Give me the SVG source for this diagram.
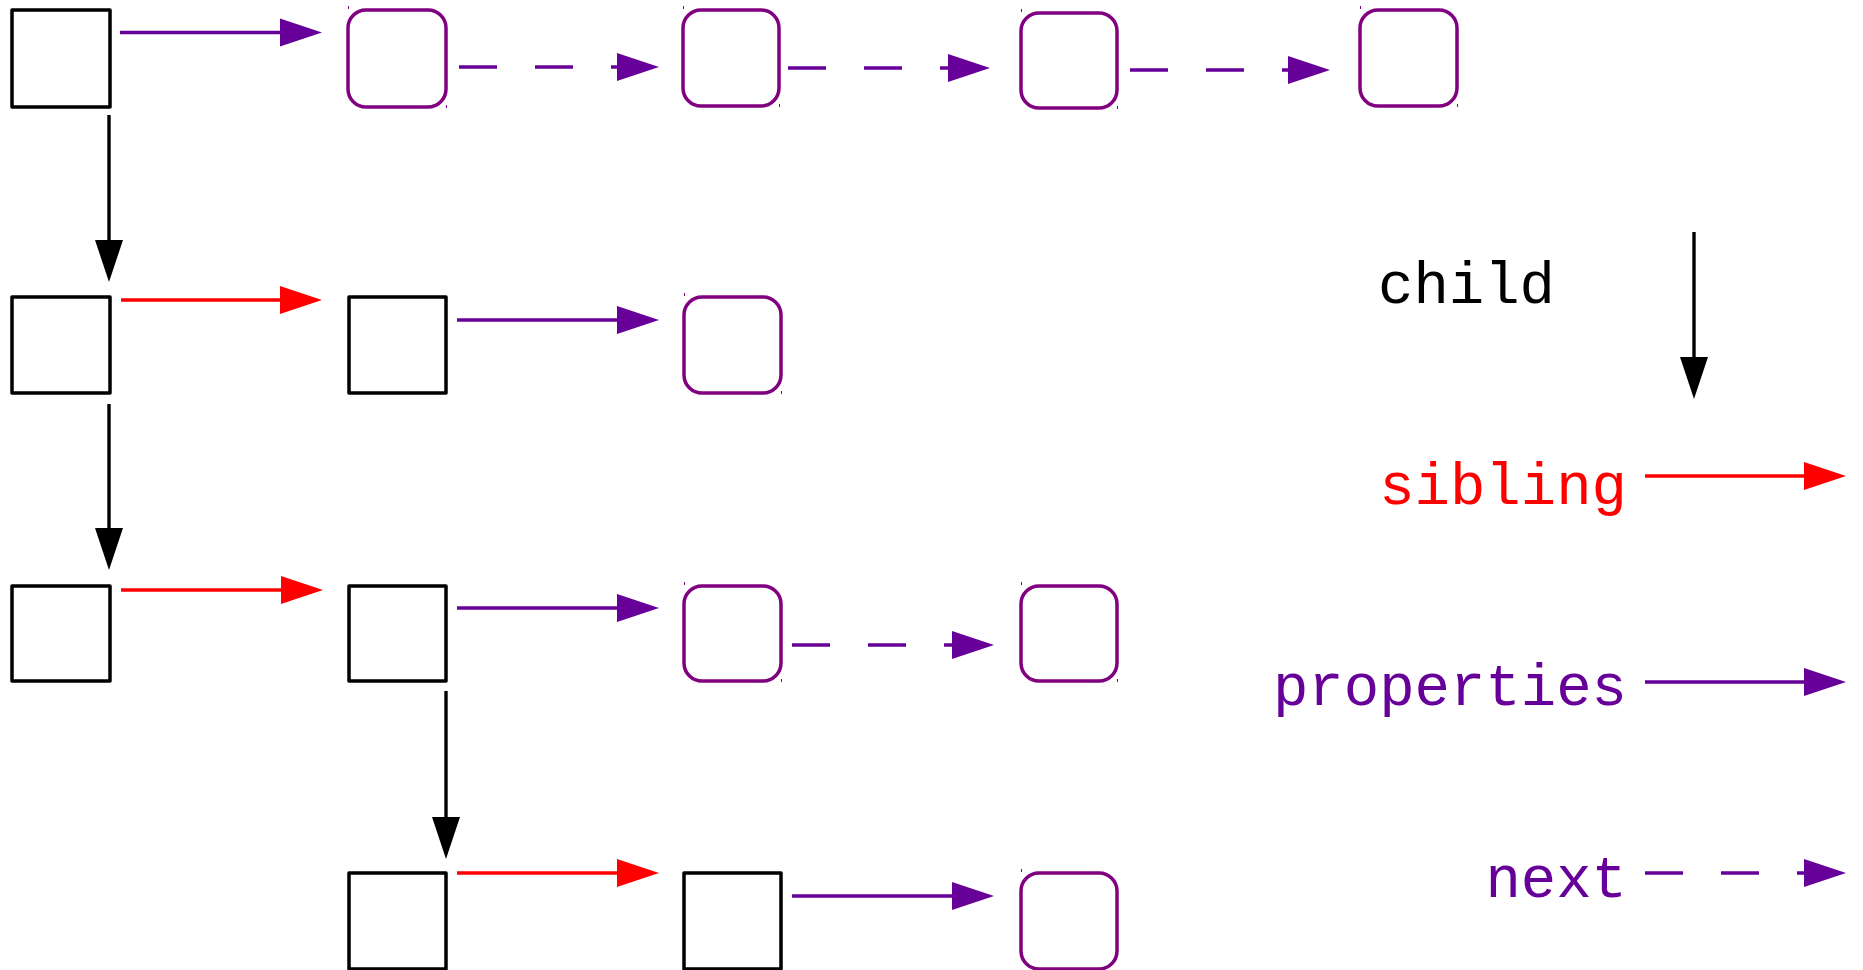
<svg xmlns="http://www.w3.org/2000/svg" width="1863" height="970" viewBox="0 0 1863 970">
  <style>
    .node { fill: #ffffff; stroke: #000000; stroke-width: 3.5; stroke-linejoin: round; }
    .prop { fill: #ffffff; stroke: #800080; stroke-width: 3.5; }
    .tick { stroke: #800080; stroke-width: 1; }
    .edge { fill: none; stroke-width: 3.4; stroke-linecap: butt; }
    .child { stroke: #000000; marker-end: url(#head-black); }
    .sibling { stroke: #ff0000; marker-end: url(#head-red); }
    .props { stroke: #660099; marker-end: url(#head-purple); }
    .next { stroke: #660099; stroke-dasharray: 38 38; marker-end: url(#head-purple); }
    .label { font-family: "Liberation Mono", "DejaVu Sans Mono", monospace; font-size: 59px; }
  </style>
  <defs>
    <marker id="head-black" markerUnits="userSpaceOnUse" markerWidth="42" markerHeight="28" refX="0" refY="14" orient="auto" overflow="visible">
      <path d="M0,0 L42,14 L0,28 Z" fill="#000000"/>
    </marker>
    <marker id="head-red" markerUnits="userSpaceOnUse" markerWidth="42" markerHeight="28" refX="0" refY="14" orient="auto" overflow="visible">
      <path d="M0,0 L42,14 L0,28 Z" fill="#ff0000"/>
    </marker>
    <marker id="head-purple" markerUnits="userSpaceOnUse" markerWidth="42" markerHeight="28" refX="0" refY="14" orient="auto" overflow="visible">
      <path d="M0,0 L42,14 L0,28 Z" fill="#660099"/>
    </marker>
  </defs>
  <rect width="1863" height="970" fill="#ffffff"/>

  <!-- tree nodes (square) -->
  <g id="n1"><rect class="node" x="12" y="10" width="98" height="97"/></g>
  <g id="n2"><rect class="node" x="12" y="297" width="98" height="96"/></g>
  <g id="n3"><rect class="node" x="349" y="297" width="97" height="96"/></g>
  <g id="n4"><rect class="node" x="12" y="586" width="98" height="95"/></g>
  <g id="n5"><rect class="node" x="349" y="586" width="97" height="95"/></g>
  <g id="n6"><rect class="node" x="349" y="873" width="97" height="96"/></g>
  <g id="n7"><rect class="node" x="684" y="873" width="97" height="96"/></g>

  <!-- property nodes (rounded) -->
  <g id="p1"><rect class="prop" x="348" y="10" width="98" height="97" rx="18"/>
    <path class="tick" d="M348.5,6 v3 M446.5,105 v3"/></g>
  <g id="p2"><rect class="prop" x="683" y="10" width="96" height="96" rx="18"/>
    <path class="tick" d="M683.5,6 v3 M779.5,104 v3"/></g>
  <g id="p3"><rect class="prop" x="1021" y="13" width="96" height="95" rx="18"/>
    <path class="tick" d="M1021.5,9 v3 M1117.5,106 v3"/></g>
  <g id="p4"><rect class="prop" x="1360" y="10" width="97" height="96" rx="18"/>
    <path class="tick" d="M1360.5,6 v3 M1457.5,104 v3"/></g>
  <g id="p5"><rect class="prop" x="684" y="297" width="97" height="96" rx="18"/>
    <path class="tick" d="M684.5,293 v3 M781.5,391 v3"/></g>
  <g id="p6"><rect class="prop" x="684" y="586" width="97" height="95" rx="18"/>
    <path class="tick" d="M684.5,582 v3 M781.5,679 v3"/></g>
  <g id="p7"><rect class="prop" x="1021" y="586" width="96" height="95" rx="18"/>
    <path class="tick" d="M1021.5,582 v3 M1117.5,679 v3"/></g>
  <g id="p8"><rect class="prop" x="1021" y="873" width="96" height="96" rx="18"/>
    <path class="tick" d="M1021.5,869 v3"/></g>

  <!-- connectors -->
  <g id="connectors">
    <line class="edge child" x1="109" y1="115" x2="109" y2="240"/>
    <line class="edge child" x1="109" y1="404" x2="109" y2="528"/>
    <line class="edge child" x1="446" y1="691" x2="446" y2="817"/>

    <line class="edge sibling" x1="121" y1="300" x2="280" y2="300"/>
    <line class="edge sibling" x1="121" y1="590" x2="281" y2="590"/>
    <line class="edge sibling" x1="457" y1="873" x2="617" y2="873"/>

    <line class="edge props" x1="120" y1="32.5" x2="280" y2="32.5"/>
    <line class="edge props" x1="457" y1="320" x2="617" y2="320"/>
    <line class="edge props" x1="457" y1="608" x2="617" y2="608"/>
    <line class="edge props" x1="792" y1="896" x2="952" y2="896"/>

    <line class="edge next" x1="459" y1="67" x2="617" y2="67"/>
    <line class="edge next" x1="788" y1="68" x2="948" y2="68"/>
    <line class="edge next" x1="1130" y1="70" x2="1288" y2="70"/>
    <line class="edge next" x1="792" y1="645" x2="952" y2="645"/>
  </g>

  <!-- legend -->
  <g id="legend-child">
    <text class="label" x="1378" y="303" fill="#000000">child</text>
    <line class="edge child" x1="1694" y1="232" x2="1694" y2="357"/>
  </g>
  <g id="legend-sibling">
    <text class="label" x="1627" y="504" fill="#ff0000" text-anchor="end">sibling</text>
    <line class="edge sibling" x1="1645" y1="476" x2="1804" y2="476"/>
  </g>
  <g id="legend-properties">
    <text class="label" x="1627" y="705" fill="#660099" text-anchor="end">properties</text>
    <line class="edge props" x1="1645" y1="682" x2="1804" y2="682"/>
  </g>
  <g id="legend-next">
    <text class="label" x="1627" y="897" fill="#660099" text-anchor="end">next</text>
    <line class="edge next" x1="1645" y1="873" x2="1804" y2="873"/>
  </g>
</svg>
